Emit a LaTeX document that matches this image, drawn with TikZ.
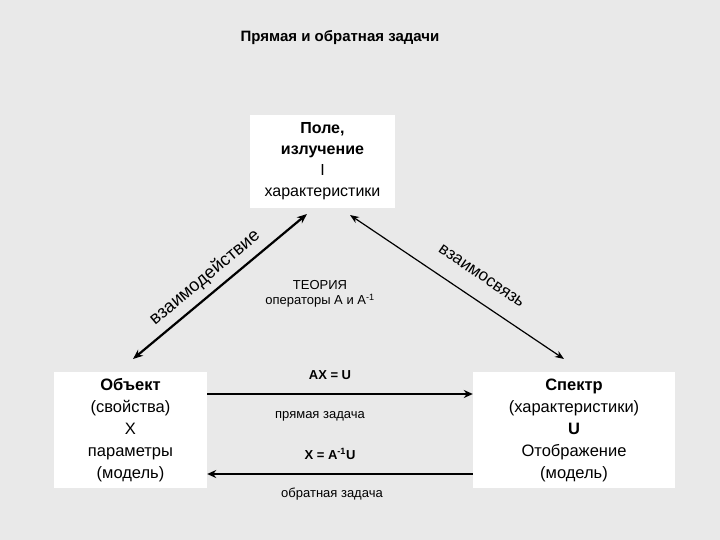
\documentclass[tikz,border=0pt]{standalone}
\usepackage{fontspec}
\setmainfont{Liberation Sans}
\usetikzlibrary{decorations.text,arrows.meta}
\begin{document}
\begin{tikzpicture}[x=1pt,y=-1pt,
  box/.style={fill=white,draw=none,align=center,inner sep=0pt},
  big/.style={font=\fontsize{16.5}{22}\selectfont},
  mid/.style={font=\fontsize{16}{21}\selectfont},
  sm/.style={font=\fontsize{13}{15}\selectfont},
  arr/.style={line width=2.2pt,-{Stealth[length=9pt,width=8pt]}},
  darr/.style={line width=2.2pt,{Stealth[length=10pt,width=8pt]}-{Stealth[length=10pt,width=8pt]}},
  tarr/.style={line width=1.2pt,{Stealth[length=9pt,width=7pt]}-{Stealth[length=9pt,width=7pt]}}]
\fill[gray!17] (0,0) rectangle (720,540);
\useasboundingbox (0,0) rectangle (720,540);
\node[font=\bfseries\fontsize{15}{17}\selectfont] (title) at (340,38) {Прямая и обратная задачи};
\node[box,mid,minimum width=145pt,minimum height=93pt] (top) at (322.5,161.5) {\textbf{Поле,}\\\textbf{излучение}\\I\\характеристики};
\node[box,big,minimum width=153pt,minimum height=116pt] (obj) at (130.5,430) {\textbf{Объект}\\(свойства)\\X\\параметры\\(модель)};
\node[box,big,minimum width=202pt,minimum height=116pt] (sp) at (574,430) {\textbf{Спектр}\\(характеристики)\\\textbf{U}\\Отображение\\(модель)};
\node[sm,align=center] (th) at (320,294) {ТЕОРИЯ\\операторы A и A\textsuperscript{-1}};
\coordinate (lt) at (307,214); \coordinate (lb) at (133,359);
\coordinate (rt) at (350,215); \coordinate (rb) at (564,359);
\draw[darr] (lb) -- (lt);
\draw[tarr] (rt) -- (rb);
\draw[arr] (obj.east|-0,394) -- (sp.west|-0,394);
\draw[arr] (sp.west|-0,474) -- (obj.east|-0,474);
\node[sm] (ax) at (330,375) {\textbf{AX = U}};
\node[sm] (pz) at (320,416) {прямая задача};
\node[sm] (xa) at (330,454) {\textbf{X = A\textsuperscript{-1}U}};
\node[sm] (oz) at (332,494) {обратная задача};
\coordinate (a1) at (150,330); \coordinate (a2) at (266,233);
\path[decorate,decoration={text along path,text={|\fontsize{18}{18}\selectfont|взаимодействие},text align=center}]
  (a1) -- (a2);
\coordinate (b1) at (430,246); \coordinate (b2) at (528,313);
\path[decorate,decoration={text along path,text={|\fontsize{17}{17}\selectfont|взаимосвязь},text align=center}]
  (b1) -- (b2);
\end{tikzpicture}
\end{document}
